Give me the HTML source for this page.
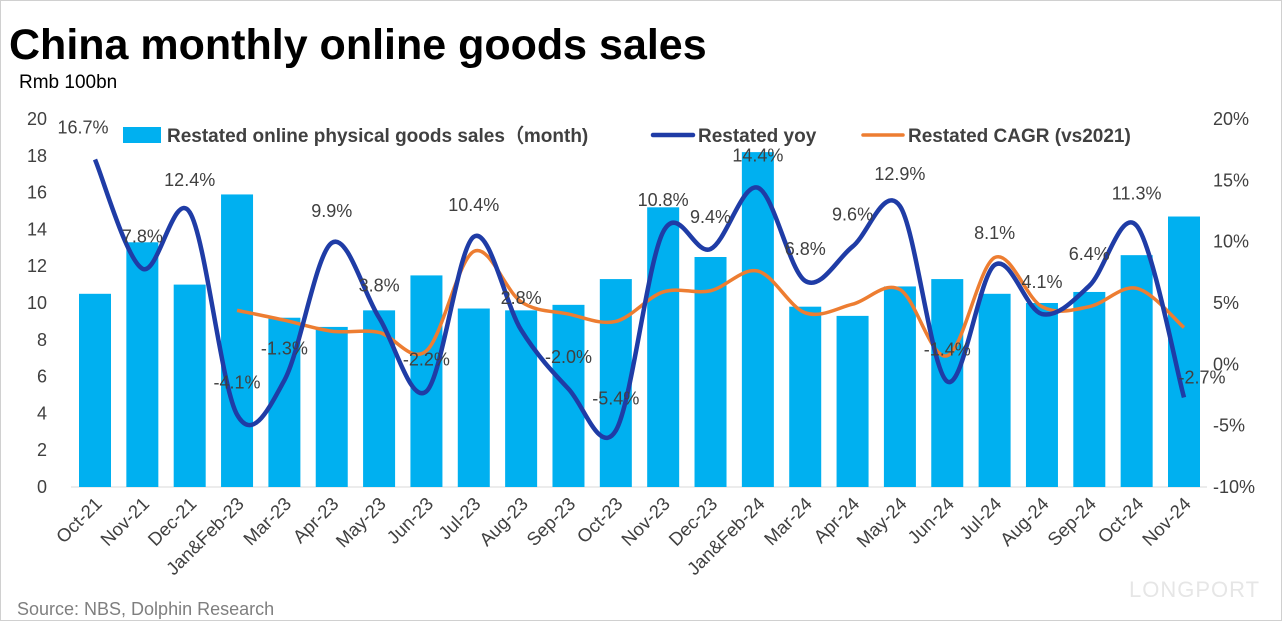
<!DOCTYPE html>
<html><head><meta charset="utf-8">
<style>
body{margin:0;background:#fff;}
#wrap{position:relative;width:1282px;height:621px;overflow:hidden;font-family:"Liberation Sans",Arial,sans-serif;border:1px solid #d0d0d0;box-sizing:border-box;}
</style></head>
<body>
<div id="wrap">
<svg id="chart" width="1282" height="621"></svg>
</div>
<script>
const categories=["Oct-21","Nov-21","Dec-21","Jan&Feb-23","Mar-23","Apr-23","May-23","Jun-23","Jul-23","Aug-23","Sep-23","Oct-23","Nov-23","Dec-23","Jan&Feb-24","Mar-24","Apr-24","May-24","Jun-24","Jul-24","Aug-24","Sep-24","Oct-24","Nov-24"];
const salesValues=[10.5,13.3,11.0,15.9,9.2,8.7,9.6,11.5,9.7,9.6,9.9,11.3,15.2,12.5,18.2,9.8,9.3,10.9,11.3,10.5,10.0,10.6,12.6,14.7];
const yoyValues=[16.7,7.8,12.4,-4.1,-1.3,9.9,3.8,-2.2,10.4,2.8,-2.0,-5.4,10.8,9.4,14.4,6.8,9.6,12.9,-1.4,8.1,4.1,6.4,11.3,-2.7];
const cagrValues=[null,null,null,4.4,3.6,2.7,2.6,1.1,9.2,5.1,4.1,3.5,5.9,6.0,7.6,4.2,4.9,6.1,0.7,8.7,4.7,4.7,6.2,3.0];
const leftTicks=[0,2,4,6,8,10,12,14,16,18,20];
const rightTicks=[-10,-5,0,5,10,15,20];

const svg=document.getElementById('chart');
const NS='http://www.w3.org/2000/svg';
const X0=94,XSTEP=(1183-94)/23,YB=486,YT=118;
const xPos=i=>X0+i*XSTEP;
const yL=v=>YB-(v/20)*(YB-YT);
const yR=v=>YB-((v+10)/30)*(YB-YT);
function mk(tag,attrs,parent){const e=document.createElementNS(NS,tag);for(const k in attrs)e.setAttribute(k,attrs[k]);(parent||svg).appendChild(e);return e;}
function txt(s,attrs){const e=mk('text',attrs);e.textContent=s;return e;}

let t=txt('China monthly online goods sales',{x:8,y:58,'font-size':43,'font-weight':'bold',fill:'#000'});


t=txt('Rmb 100bn',{x:18,y:87,'font-size':19,fill:'#000'});


t=txt('Source: NBS, Dolphin Research',{x:16,y:614,'font-size':18,fill:'#7f7f7f'});


t=txt('LONGPORT',{x:1128,y:596,'font-size':22,fill:'#e6e6e6','letter-spacing':1});



leftTicks.forEach(v=>{const e=txt(v,{x:46,y:yL(v)+6,'font-size':18,fill:'#404040','text-anchor':'end'});

});
rightTicks.forEach(v=>{const e=txt(v+'%',{x:1212,y:yR(v)+6,'font-size':18,fill:'#404040'});

});
const ax=mk('line',{x1:70,x2:1206,y1:YB,y2:YB,stroke:'#d9d9d9','stroke-width':1});



categories.forEach((c,i)=>{
 const b=mk('rect',{x:xPos(i)-16,y:yL(salesValues[i]),width:32,height:YB-yL(salesValues[i]),fill:'#00b0f0'});
 
 
 const l=txt(c,{x:0,y:0,'font-size':18.5,fill:'#404040','text-anchor':'end',transform:`translate(${xPos(i)+8},${YB+18}) rotate(-45)`});
 
 
});

function smooth(pts){let d=`M${pts[0][0]},${pts[0][1]}`;for(let i=0;i<pts.length-1;i++){const p0=pts[i-1]||pts[i],p1=pts[i],p2=pts[i+1],p3=pts[i+2]||p2;const k=0.5/3;d+=` C${p1[0]+(p2[0]-p0[0])*k},${p1[1]+(p2[1]-p0[1])*k} ${p2[0]-(p3[0]-p1[0])*k},${p2[1]-(p3[1]-p1[1])*k} ${p2[0]},${p2[1]}`;}return d;}
const cp=[];cagrValues.forEach((v,i)=>{if(v!==null)cp.push([xPos(i),yR(v)]);});
const cl=mk('path',{d:smooth(cp),fill:'none',stroke:'#ed7d31','stroke-width':3.5});


const yp=yoyValues.map((v,i)=>[xPos(i),yR(v)]);
const yl=mk('path',{d:smooth(yp),fill:'none',stroke:'#1f3ca6','stroke-width':4.5});


yoyValues.forEach((v,i)=>{
 const dx=(i===23)?18:(i===0?-12:0);
 const dy=(i===23)?-14:-26;
 const e=txt(v.toFixed(1)+'%',{x:xPos(i)+dx,y:yR(v)+dy,'font-size':18,fill:'#404040','text-anchor':'middle'});
 
 
});

const lg=mk('g',{});


const s1=mk('rect',{x:122,y:126,width:38,height:16,fill:'#00b0f0'},lg);


t=txt('Restated online physical goods sales（month)',{x:166,y:141,'font-size':19,'font-weight':'bold',fill:'#404040'});


const s2=mk('line',{x1:652,x2:692,y1:134,y2:134,stroke:'#1f3ca6','stroke-width':4.5,'stroke-linecap':'round'},lg);


t=txt('Restated yoy',{x:697,y:141,'font-size':19,'font-weight':'bold',fill:'#404040'});


const s3=mk('line',{x1:862,x2:902,y1:134,y2:134,stroke:'#ed7d31','stroke-width':3.5,'stroke-linecap':'round'},lg);


t=txt('Restated CAGR (vs2021)',{x:907,y:141,'font-size':19,'font-weight':'bold',fill:'#404040'});


</script>
</body></html>
